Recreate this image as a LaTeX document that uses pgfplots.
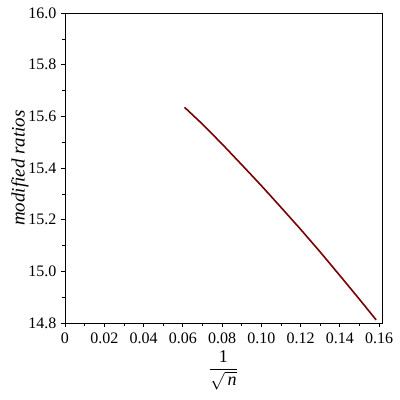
\documentclass[border=0pt]{standalone}
\usepackage{fontspec}
\setmainfont{Liberation Serif}
\usepackage{pgfplots}
\pgfplotsset{compat=1.18}
\definecolor{maple}{RGB}{120,0,0}

\begin{document}
\begin{tikzpicture}
\useasboundingbox (-65pt,-77pt) rectangle (335pt,323pt);
\begin{axis}[
    at={(0pt,0pt)}, anchor=south west,
    scale only axis, width=317pt, height=310pt,
    xmin=0, xmax=0.1615, ymin=14.8, ymax=16.0,
    xtick={0,0.02,0.04,0.06,0.08,0.10,0.12,0.14,0.16},
    xticklabels={0,0.02,0.04,0.06,0.08,0.10,0.12,0.14,0.16},
    ytick={14.8,15.0,15.2,15.4,15.6,15.8,16.0},
    yticklabel style={/pgf/number format/fixed, /pgf/number format/fixed zerofill,
        /pgf/number format/precision=1, xshift=-1pt},
    /pgf/number format/assume math mode=true,
    minor x tick num=1, minor y tick num=1,
    tick align=outside, tick pos=left,
    major tick length=4pt, minor tick length=3pt,
    tick style={black, line width=0.6pt},
    axis line style={line width=0.8pt},
    every tick label/.append style={font=\fontsize{16}{18}\selectfont},
    xticklabel style={yshift=-2pt},
    xlabel={$\displaystyle\frac{\mathrm{1}}{\sqrt{\,\mbox{\itshape n}}}$},
    xlabel style={font=\fontsize{18}{20}\selectfont, at={(axis description cs:0.5,0)}, anchor=center, yshift=-47pt},
    ylabel={modified ratios},
    ylabel style={font=\fontsize{19}{21}\selectfont\itshape,
        at={(axis description cs:0,0.5)}, anchor=center, yshift=45pt},
]
\addplot[maple, line width=1.6pt] coordinates {
    (0.0609,15.635) (0.070,15.570) (0.080,15.493) (0.090,15.413)
    (0.100,15.332) (0.110,15.248) (0.120,15.163) (0.130,15.075)
    (0.140,14.984) (0.150,14.892) (0.1585,14.812)
};
\end{axis}
\end{tikzpicture}
\end{document}
